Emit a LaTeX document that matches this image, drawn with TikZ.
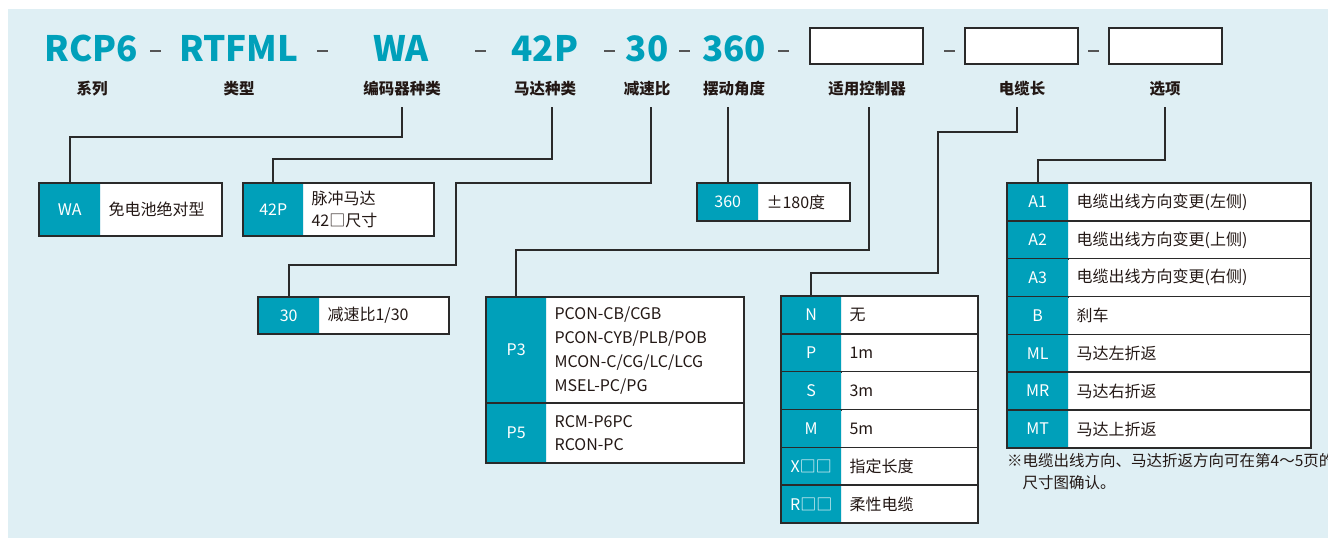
\documentclass[tikz,border=0pt]{standalone}
\usepackage{fontspec}
\setmainfont{Noto Sans CJK SC}
\definecolor{teal0}{HTML}{00A0BA}
\definecolor{bgc}{HTML}{DFEFF4}
\definecolor{txt}{HTML}{231815}
\definecolor{lc}{HTML}{2A2A2A}
\definecolor{dashc}{HTML}{555555}
\tikzset{
  ttl/.style={anchor=base,inner sep=0,text=teal0,font=\bfseries\fontsize{35}{35}\selectfont},
  lbl/.style={inner sep=0,minimum height=36,text=txt,font=\bfseries\fontsize{15.5}{18}\selectfont},
  hbox/.style={draw=lc,line width=1.6,fill=white,minimum width=113,minimum height=36,inner sep=0},
  codecell/.style={fill=teal0,text=white,anchor=north west,inner sep=0,font=\fontsize{16}{20}\selectfont},
  desccell/.style={fill=white,text=txt,anchor=north west,inner xsep=8,inner ysep=0,align=left,font=\fontsize{16}{23}\selectfont},
  rowline/.style={draw=lc,line width=1.4},
  outerline/.style={draw=lc,line width=2},
  conn/.style={draw=lc,line width=1.8},
  dashmark/.style={draw=dashc,line width=1.6},
}
\newcommand\mkrow[8]{%
  \pgfmathsetmacro\mktw{#5-#4-16}%
  \node[codecell,minimum width=#4,minimum height=#6] (#1c) at (#2,#3) {#7};
  \node[desccell,text width=\mktw pt,minimum height=#6] (#1d) at (#1c.north east) {#8};
  \draw[rowline] (#1c.north west) rectangle (#1d.south east);}
\begin{document}
\begin{tikzpicture}[x=1pt,y=-1pt]
\useasboundingbox (0,0) rectangle (1328,538);
\fill[bgc] (8,9) rectangle (1328,538);
% title
\node[ttl] (tRCP) at (91,61) {RCP6};
\node[ttl] (tRTF) at (239,61) {RTFML};
\node[ttl] (tWA) at (401,61) {WA};
\node[ttl] (t42) at (545,61) {42P};
\node[ttl] (t30) at (647,61) {30};
\node[ttl] (t360) at (734,61) {360};
\node[hbox] (hb1) at (866.5,46) {};
\node[hbox] (hb2) at (1021.5,46) {};
\node[hbox] (hb3) at (1165.5,46) {};
\foreach \xa in {150,317,475,604,679,778,944,1088}
  \draw[dashmark] (\xa,51) -- ++(11,0);
% labels
\node[lbl] (lser) at (92,89) {系列};
\node[lbl] (ltyp) at (239,89) {类型};
\node[lbl] (lenc) at (402,89) {编码器种类};
\node[lbl] (lmot) at (545,89) {马达种类};
\node[lbl] (lred) at (647,89) {减速比};
\node[lbl] (lang) at (734,89) {摆动角度};
\node[lbl] (lctl) at (867,89) {适用控制器};
\node[lbl] (lcab) at (1022,89) {电缆长};
\node[lbl] (lopt) at (1165,89) {选项};
% tables
\mkrow{wa}{39}{183}{61}{182}{53}{WA}{免电池绝对型}
\mkrow{mp}{243}{183}{60}{190}{53}{42P}{脉冲马达\\[-1pt]42□尺寸}
\mkrow{rr}{258}{297}{61}{190}{37}{30}{减速比1/30}
\mkrow{an}{697}{183}{61}{152}{38}{360}{±180度}
\mkrow{pa}{486}{297}{60}{257}{106}{P3}{PCON-CB/CGB\\[1pt]PCON-CYB/PLB/POB\\[1pt]MCON-C/CG/LC/LCG\\[1pt]MSEL-PC/PG}
\mkrow{pb}{486}{403}{60}{257}{60}{P5}{RCM-P6PC\\RCON-PC}
\draw[outerline] (pac.north west) rectangle (pbd.south east);
\mkrow{ca}{781}{296}{60}{196}{37.8}{N}{无}
\mkrow{cb}{781}{333.8}{60}{196}{37.8}{P}{1m}
\mkrow{cc}{781}{371.6}{60}{196}{37.8}{S}{3m}
\mkrow{cd}{781}{409.4}{60}{196}{37.8}{M}{5m}
\mkrow{ce}{781}{447.2}{60}{196}{37.8}{X□□}{指定长度}
\mkrow{cf}{781}{485}{60}{196}{38}{R□□}{柔性电缆}
\draw[outerline] (cac.north west) rectangle (cfd.south east);
\mkrow{oa}{1007}{183}{61}{303}{37.8}{A1}{电缆出线方向变更(左侧)}
\mkrow{ob}{1007}{220.8}{61}{303}{37.8}{A2}{电缆出线方向变更(上侧)}
\mkrow{oc}{1007}{258.6}{61}{303}{37.8}{A3}{电缆出线方向变更(右侧)}
\mkrow{od}{1007}{296.4}{61}{303}{37.8}{B}{刹车}
\mkrow{oe}{1007}{334.2}{61}{303}{37.8}{ML}{马达左折返}
\mkrow{of}{1007}{372}{61}{303}{37.8}{MR}{马达右折返}
\mkrow{og}{1007}{409.8}{61}{303}{38}{MT}{马达上折返}
\draw[outerline] (oac.north west) rectangle (ogd.south east);
\draw[outerline] (wac.north west) rectangle (wad.south east);
\draw[outerline] (mpc.north west) rectangle (mpd.south east);
\draw[outerline] (rrc.north west) rectangle (rrd.south east);
\draw[outerline] (anc.north west) rectangle (and.south east);
% note
\node[anchor=north west,inner sep=0,align=left,text=txt,font=\fontsize{15.5}{22}\selectfont] (note) at (1007,453) {※电缆出线方向、马达折返方向可在第4～5页的\\\phantom{※}尺寸图确认。};
% connectors
\draw[conn] (lenc.south) -- ++(0,30) -| (wac.north);
\draw[conn] ([xshift=7pt]lmot.south) -- ++(0,52) -| (mpc.north);
\draw[conn] ([xshift=4pt]lred.south) -- ++(0,76) -- ++(-195,0) -- ++(0,82) -| (rrc.north);
\draw[conn] (anc.north |- lang.south) -- (anc.north);
\draw[conn] ([xshift=2pt]lctl.south) -- ++(0,143) -| (pac.north);
\draw[conn] ([xshift=-5pt]lcab.south) -- ++(0,25) -- ++(-79,0) -- ++(0,141) -| (cac.north);
\draw[conn] (lopt.south) -- ++(0,53) -| (oac.north);
\end{tikzpicture}
\end{document}
